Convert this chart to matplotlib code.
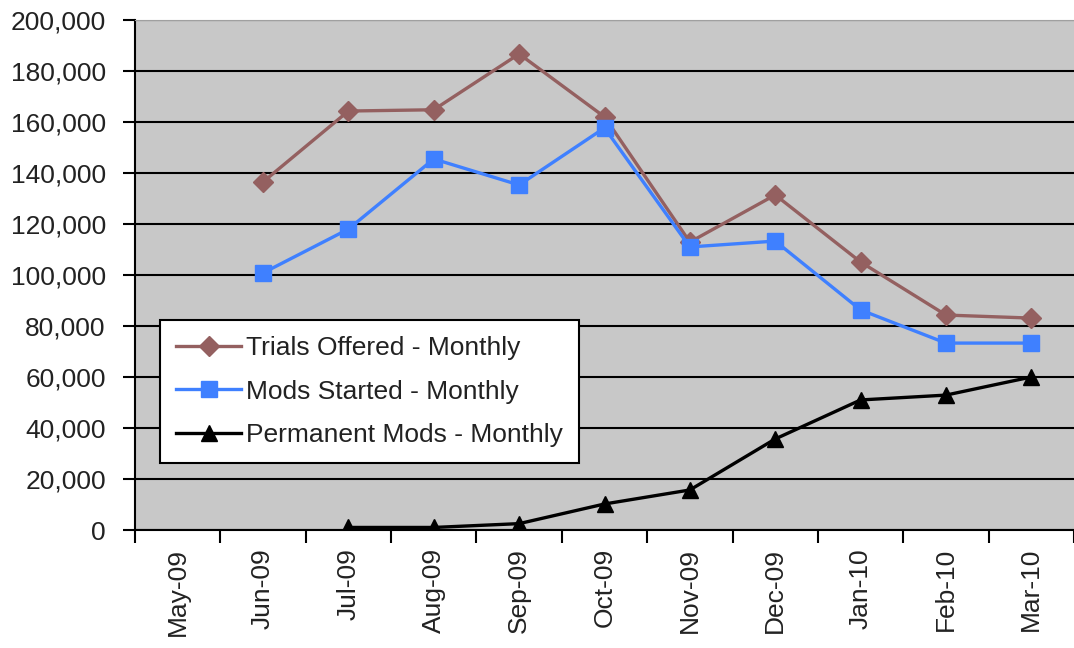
import numpy as np
import matplotlib
matplotlib.use('Agg')
import matplotlib.pyplot as plt
from matplotlib.ticker import FuncFormatter

plt.rcParams['font.family'] = ['Liberation Sans', 'DejaVu Sans']

MONTHS = ['May-09', 'Jun-09', 'Jul-09', 'Aug-09', 'Sep-09', 'Oct-09',
          'Nov-09', 'Dec-09', 'Jan-10', 'Feb-10', 'Mar-10']
nan = np.nan
TRIALS = [nan, 136500, 164300, 164800, 186700, 162000, 112900, 131400, 105100, 84300, 83100]
MODS_STARTED = [nan, 100800, 118000, 145500, 135300, 157700, 111000, 113300, 86300, 73300, 73300]
PERMANENT = [nan, nan, 1000, 1000, 2500, 10200, 15700, 35700, 51000, 52900, 60000]

fig = plt.figure(figsize=(10.74, 6.48), dpi=100)
ax = fig.add_axes([135 / 1074, 1 - 530 / 648, 939 / 1074, 510 / 648])
ax.set_facecolor('#c8c8c8')

x = np.arange(len(MONTHS))
ax.plot(x, TRIALS, color='#946060', lw=2.4, marker='D', ms=10,
        label='Trials Offered - Monthly', zorder=3)
ax.plot(x, MODS_STARTED, color='#3f80ff', lw=2.4, marker='s', ms=11,
        label='Mods Started - Monthly', zorder=3)
ax.plot(x, PERMANENT, color='black', lw=2.4, marker='^', ms=11,
        label='Permanent Mods - Monthly', zorder=3)

ax.set_xlim(-0.5, len(MONTHS) - 0.5)
ax.set_ylim(0, 200000)
ax.set_yticks(np.arange(0, 200001, 20000))
ax.yaxis.set_major_formatter(FuncFormatter(lambda v, p: f'{int(v):,}'))
ax.grid(axis='y', color='black', lw=1.5, zorder=1)
ax.set_axisbelow(True)

ax.set_xticks(x)
ax.set_xticklabels(MONTHS, rotation=90)
ax.set_xticks(np.arange(-0.5, len(MONTHS)), minor=True)
ax.tick_params(axis='x', which='major', length=0, pad=13, labelsize=19, labelcolor='#222222')
ax.tick_params(axis='x', which='minor', length=9, width=1.5, direction='out')
ax.tick_params(axis='y', length=9, width=1.5, labelsize=19, pad=12, labelcolor='#222222')

for s in ['left', 'bottom']:
    ax.spines[s].set_linewidth(1.5)
    ax.spines[s].set_color('black')
ax.spines['top'].set_color('#a0a0a0')
ax.spines['right'].set_visible(False)

leg = ax.legend(loc='lower left', bbox_to_anchor=(0.027, 0.131), borderaxespad=0,
                fontsize=19, fancybox=False, framealpha=1, edgecolor='black',
                handlelength=2.45, handletextpad=0.2, labelspacing=0.75,
                borderpad=0.6)
leg.get_frame().set_linewidth(1.5)
for t in leg.get_texts():
    t.set_color('#222222')

fig.savefig('out.png', dpi=100)
